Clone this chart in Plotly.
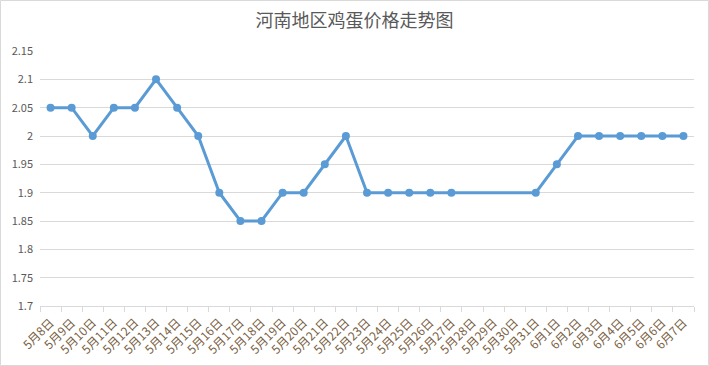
import plotly.graph_objects as go

dates = [f"5月{d}日" for d in range(8, 32)] + [f"6月{d}日" for d in range(1, 8)]
prices = [2.05, 2.05, 2.0, 2.05, 2.05, 2.1, 2.05, 2.0, 1.9, 1.85,
          1.85, 1.9, 1.9, 1.95, 2.0, 1.9, 1.9, 1.9, 1.9, 1.9,
          None, None, None, 1.9, 1.95, 2.0, 2.0, 2.0, 2.0, 2.0, 2.0]
ytick_vals = [1.7, 1.75, 1.8, 1.85, 1.9, 1.95, 2.0, 2.05, 2.1, 2.15]
ytick_text = ["1.7", "1.75", "1.8", "1.85", "1.9", "1.95", "2", "2.05", "2.1", "2.15"]

W, H = 709, 366
L, R, T, B = 40, 15, 51, 60
pw, ph = W - L - R, H - T - B

fig = go.Figure()
fig.add_trace(go.Scatter(
    x=dates, y=prices, mode="lines+markers", connectgaps=True,
    line=dict(color="#5B9BD5", width=3),
    marker=dict(color="#5B9BD5", size=8),
    showlegend=False,
))

font = "Noto Sans CJK SC, Microsoft YaHei, sans-serif"
fig.update_layout(
    width=W, height=H,
    margin=dict(l=L, r=R, t=T, b=B, autoexpand=False),
    paper_bgcolor="white", plot_bgcolor="white",
    font=dict(family=font, color="#595959", size=11),
    title=dict(text="河南地区鸡蛋价格走势图", x=0.5, xanchor="center",
               xref="container",
               y=1 - 21 / H, yanchor="middle",
               font=dict(size=18, color="#595959", family=font)),
    xaxis=dict(
        type="category", range=[-0.5, len(dates) - 0.5], automargin=False,
        tickangle=-45, tickson="boundaries", ticks="outside", ticklen=5,
        tickcolor="#D9D9D9", showline=True, linecolor="#D9D9D9", linewidth=1,
        showgrid=False, tickfont=dict(size=12, color="#7a5f45"),
        ticklabelstandoff=4,
    ),
    yaxis=dict(
        range=[1.7, 2.15], tickvals=ytick_vals, ticktext=ytick_text,
        automargin=False,
        showgrid=True, gridcolor="#D9D9D9", gridwidth=1, zeroline=False,
        showline=False, ticks="", tickfont=dict(size=11, color="#595959"),
        ticklabelstandoff=6,
    ),
    shapes=[dict(type="rect", xref="paper", yref="paper",
                 x0=(0.5 - L) / pw, x1=(W - 0.5 - L) / pw,
                 y0=(H - B - (H - 0.5)) / ph, y1=(H - B - 0.5) / ph,
                 line=dict(color="#D9D9D9", width=1), layer="below")],
)

fig.write_html("out.html", config={"displayModeBar": False},
               post_script="document.body.style.margin='0';")
